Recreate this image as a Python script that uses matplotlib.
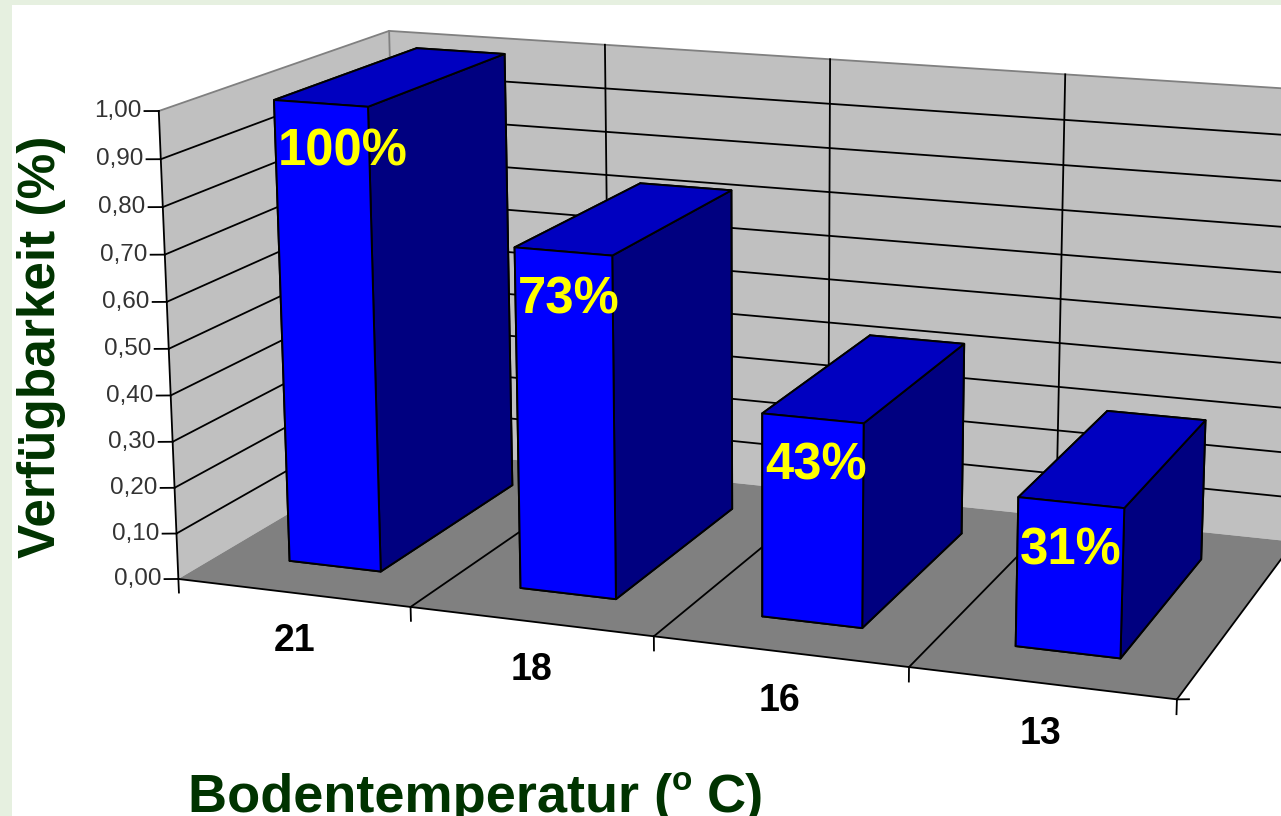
import numpy as np
import matplotlib
matplotlib.use("Agg")
import matplotlib.pyplot as plt
from matplotlib.patches import Rectangle
from mpl_toolkits.mplot3d.art3d import Poly3DCollection

plt.rcParams['font.family'] = ['Liberation Sans', 'DejaVu Sans']

categories = ["21", "18", "16", "13"]
values = [1.00, 0.73, 0.43, 0.31]
bar_labels = ["100%", "73%", "43%", "31%"]
z_ticks = [0.0, 0.1, 0.2, 0.3, 0.4, 0.5, 0.6, 0.7, 0.8, 0.9, 1.0]
z_tick_labels = ["0,00", "0,10", "0,20", "0,30", "0,40", "0,50", "0,60", "0,70", "0,80", "0,90", "1,00"]

W, H = 1281, 816
BAR_X0, BAR_X1 = 0.3, 0.7
BAR_Y0, BAR_Y1 = 0.18, 0.82

# camera: plot coordinates -> picture pixels, fitted on points of the box
camera_points = [
    ((0, 0, 0), (181, 579)), ((4, 0, 0), (1180, 698)),
    ((1, 0, 0), (412, 606)), ((2, 0, 0), (656, 634)), ((3, 0, 0), (911, 664)),
    ((0, 0, 1), (160, 110)), ((0, 1, 1), (390, 30)),
    ((0, 1, 0), (398, 446)), ((4, 1, 0), (1295, 545)), ((4, 1, 1), (1310, 90)),
    ((1, 1, 1), (604, 45)), ((2, 1, 1), (832, 60)), ((3, 1, 1), (1067, 74)),
    ((0.3, 0.18, 0), (288, 563)), ((0.7, 0.18, 0), (379, 574)),
    ((0.3, 0.18, 1), (271, 101)), ((0.7, 0.18, 1), (363, 108)),
    ((0.7, 0.82, 1), (507, 53)), ((0.3, 0.82, 1), (420, 49)),
    ((3.3, 0.18, 0), (1014, 648)), ((3.7, 0.18, 0), (1121, 659)),
    ((3.3, 0.18, 0.31), (1018, 498)), ((3.7, 0.18, 0.31), (1122, 509)),
    ((3.7, 0.82, 0.31), (1208, 419)), ((3.3, 0.82, 0.31), (1100, 409)),
]


def fit_camera(points):
    rows, rhs = [], []
    for (x, y, z), (u, v) in points:
        v = H - v
        rows.append([x, y, z, 1, 0, 0, 0, 0, -u * x, -u * y, -u * z])
        rhs.append(u)
        rows.append([0, 0, 0, 0, x, y, z, 1, -v * x, -v * y, -v * z])
        rhs.append(v)
    p = np.linalg.lstsq(np.array(rows, float), np.array(rhs, float), rcond=None)[0]
    # third row is only the depth for sorting; it must stay negative or lines get masked
    return np.array([p[:4], p[4:8], [-0.06, 0.2, -0.1, -0.25], [p[8], p[9], p[10], 1]])


camera = fit_camera(camera_points)

fig = plt.figure(figsize=(W / 100, H / 100), dpi=100, facecolor="#E6F0E0")
fig.add_artist(Rectangle((12 / W, 0), 1, 1 - 5 / H, transform=fig.transFigure,
                         facecolor="white", edgecolor="none", zorder=-1))

# square axes as wide as the figure, so nothing gets clipped at its border
ax = fig.add_axes([0, -(W - H) / 2 / H, 1, W / H], projection="3d", computed_zorder=False)
ax.set_xticks([])
ax.set_yticks([])
ax.set_zticks([])
ax.set_axis_off()
ax.patch.set_visible(False)


def get_proj():
    to_axes = ax.transData.inverted()
    (x0, y0), (x1, y1) = to_axes.transform([(0, 0), (1, 1)])
    m = camera.copy()
    m[0] = (x1 - x0) * camera[0] + x0 * camera[3]
    m[1] = (y1 - y0) * camera[1] + y0 * camera[3]
    return m


ax.get_proj = get_proj

n = len(categories)

# walls and floor
walls = [
    ([(0, 0, 0), (0, 1, 0), (0, 1, 1), (0, 0, 1)], "#C0C0C0"),
    ([(0, 1, 0), (n, 1, 0), (n, 1, 1), (0, 1, 1)], "#C0C0C0"),
    ([(0, 0, 0), (n, 0, 0), (n, 1, 0), (0, 1, 0)], "#808080"),
]
for verts, col in walls:
    wall = Poly3DCollection([verts], facecolors=col, edgecolors="none")
    ax.add_collection3d(wall)
    wall.set_zorder(0)


def line(xs, ys, zs, color="black", lw=1.3):
    ax.plot(xs, ys, zs, color=color, lw=lw, zorder=2, clip_on=False)


# grid lines
for z in z_ticks[1:-1]:
    line([0, 0, n], [0, 1, 1], [z, z, z])
line([0, 0, n], [0, 1, 1], [1, 1, 1], color="#808080")
line([0, 0], [1, 1], [0, 1], color="#808080")
for i in range(1, n + 1):
    line([i, i], [1, 1], [0, 1])
for i in range(1, n):
    line([i, i], [0, 1], [0, 0])

# axes and ticks
line([0, 0], [0, 0], [0, 1])
line([0, n], [0, 0], [0, 0])
line([n, n], [0, 1], [0, 0])
for z, lab in zip(z_ticks, z_tick_labels):
    line([-0.05, 0], [-0.01, 0], [z, z])
    ax.text(-0.062, -0.012, z, lab, ha="right", va="center", fontsize=17.5, color="#333333", zorder=10)
for i in range(n + 1):
    line([i, i], [0, 0], [0, -0.03])
line([n, n + 0.04], [0, 0.008], [0, 0])

for i, cat in enumerate(categories):
    ax.text(i + 0.5, 0, -0.105, cat, ha="center", va="center", fontsize=27,
            fontweight="bold", color="black", zorder=10)

# bars, left to right so each covers the side of the one before
face_colors = ["#000080", "#0000C0", "#0000FF", "#000080", "#000080", "#000080"]
for i, v in enumerate(values):
    ax.bar3d(i + BAR_X0, BAR_Y0, 0, BAR_X1 - BAR_X0, BAR_Y1 - BAR_Y0, v, color=face_colors,
             shade=False, edgecolor="black", linewidth=1.4, zorder=3 + i)
    ax.text(i + BAR_X0 + 0.01, BAR_Y0, v - 0.11, bar_labels[i], ha="left", va="center",
            fontsize=36.5, fontweight="bold", color="#FFFF00", zorder=20)

title_color = "#003300"
fig.text(188 / W, 1 - 812 / H, "Bodentemperatur (", fontsize=39, fontweight="bold",
         color=title_color, ha="left", va="baseline")
fig.text(672 / W, 1 - 790 / H, "o", fontsize=24, fontweight="bold", color=title_color,
         ha="left", va="baseline")
fig.text(707 / W, 1 - 812 / H, "C)", fontsize=39, fontweight="bold", color=title_color,
         ha="left", va="baseline")
fig.text(42 / W, 1 - 347 / H, "Verfügbarkeit (%)", fontsize=37, fontweight="bold",
         color=title_color, rotation=90, ha="center", va="center")

fig.savefig("out.png", dpi=100, facecolor=fig.get_facecolor())
